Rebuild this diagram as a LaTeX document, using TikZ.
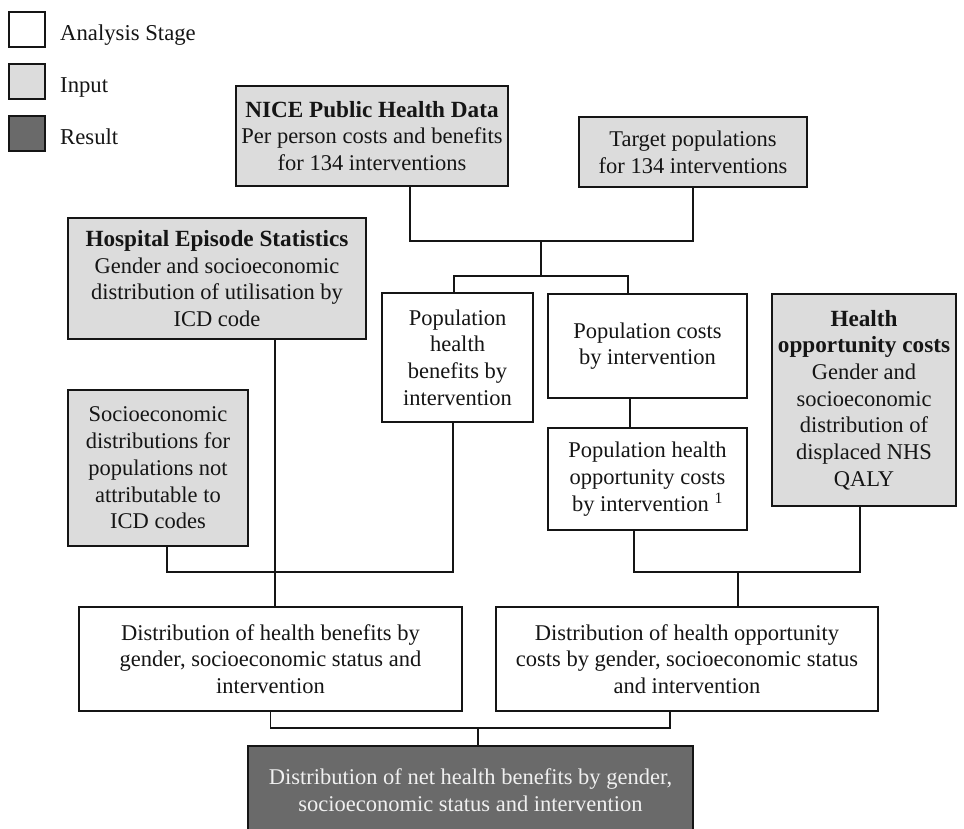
\documentclass[tikz,border=0pt]{standalone}
\usepackage{fontspec}
\setmainfont{Liberation Serif}
\usetikzlibrary{calc}
\definecolor{inputgray}{HTML}{DCDCDC}
\definecolor{resultgray}{HTML}{6A6A6A}
\definecolor{inkc}{HTML}{151515}
\newcommand{\hdr}[1]{{\fontsize{23.2}{26.7}\selectfont\bfseries #1}}
\begin{document}
\begin{tikzpicture}[x=1pt,y=-1pt,
  every node/.style={font=\fontsize{22.5}{26.7}\selectfont, text=inkc},
  basebox/.style={draw=inkc, line width=1.6pt, inner sep=0pt, align=center},
  stagebox/.style={basebox, fill=white},
  inbox/.style={basebox, fill=inputgray},
  resbox/.style={basebox, fill=resultgray, text=white!94!black},
  legtext/.style={anchor=base west, inner sep=0pt, font=\fontsize{22.7}{26}\selectfont},
  conn/.style={draw=inkc, line width=1.6pt}
]
\useasboundingbox (0,0) rectangle (964,829);

% legend
\node[stagebox, minimum width=36pt, minimum height=35pt] (lgA) at (27,29.5) {};
\node[inbox, minimum width=36pt, minimum height=35pt] (lgI) at (27,81.5) {};
\node[resbox, minimum width=36pt, minimum height=35pt] (lgR) at (27,133.5) {};
\node[legtext] (lgAt) at (60,41) {Analysis Stage};
\node[legtext] (lgIt) at (60,93) {Input};
\node[legtext] (lgRt) at (60,145) {Result};

% inputs
\node[inbox, minimum width=272pt, minimum height=100pt] (nice) at (372,136)
  {\hdr{NICE Public Health Data}\\Per person costs and benefits\\for 134 interventions};
\node[inbox, minimum width=228pt, minimum height=70pt] (target) at (693,152)
  {Target populations\\for 134 interventions};
\node[inbox, minimum width=298pt, minimum height=121pt] (hosp) at (217,278.5)
  {\hdr{Hospital Episode Statistics}\\Gender and socioeconomic\\distribution of utilisation by\\ICD code};
\node[inbox, minimum width=180pt, minimum height=156pt] (socio) at (158,468)
  {Socioeconomic\\distributions for\\populations not\\attributable to\\ICD codes};
\node[inbox, minimum width=184pt, minimum height=212pt] (hoc) at (864,400)
  {\hdr{Health}\\\hdr{opportunity costs}\\Gender and\\socioeconomic\\distribution of\\displaced NHS\\QALY};

% analysis stages
\node[stagebox, minimum width=151pt, minimum height=129pt] (phb) at (457.5,357.5)
  {Population\\health\\benefits by\\intervention};
\node[stagebox, minimum width=199pt, minimum height=104pt] (pc) at (647.5,346)
  {Population costs\\by intervention};
\node[stagebox, minimum width=199pt, minimum height=102pt] (poc) at (647.5,479)
  {Population health\\opportunity costs\\by intervention \textsuperscript{1}};
\node[stagebox, minimum width=383pt, minimum height=104pt] (dhb) at (270.5,659)
  {Distribution of health benefits by\\gender, socioeconomic status and\\intervention};
\node[stagebox, minimum width=382pt, minimum height=104pt] (doc) at (687,659)
  {Distribution of health opportunity\\costs by gender, socioeconomic status\\and intervention};

% result
\node[resbox, minimum width=445pt, minimum height=89pt] (res) at (470.5,790.5)
  {Distribution of net health benefits by gender,\\socioeconomic status and intervention};

% junctions
\coordinate (j1) at (541,241);
\coordinate (j2) at (541,276);
\coordinate (j3) at (738,572);
\coordinate (j4) at (275,572);
\coordinate (j5) at (478,728);

% connectors
\draw[conn] ([xshift=38pt]nice.south) |- (j1) -| (target.south);
\draw[conn] (j1) -- (j2);
\draw[conn] ([xshift=-3.5pt]phb.north) |- (j2) -| ([xshift=-19.5pt]pc.north);
\draw[conn] ([xshift=-17.5pt]pc.south) -- ([xshift=-17.5pt]poc.north);
\draw[conn] ([xshift=-13.5pt]poc.south) |- (j3) -| ([xshift=-4pt]hoc.south);
\draw[conn] (j3) -- (j3 |- doc.north);
\draw[conn] ([xshift=9pt]socio.south) |- (j4) -| ([xshift=-4.5pt]phb.south);
\draw[conn] ([xshift=58pt]hosp.south) -- (j4 |- dhb.north);
\draw[conn] (dhb.south) |- (j5) -| ([xshift=-17pt]doc.south);
\draw[conn] (j5) -- (j5 |- res.north);
\end{tikzpicture}
\end{document}
